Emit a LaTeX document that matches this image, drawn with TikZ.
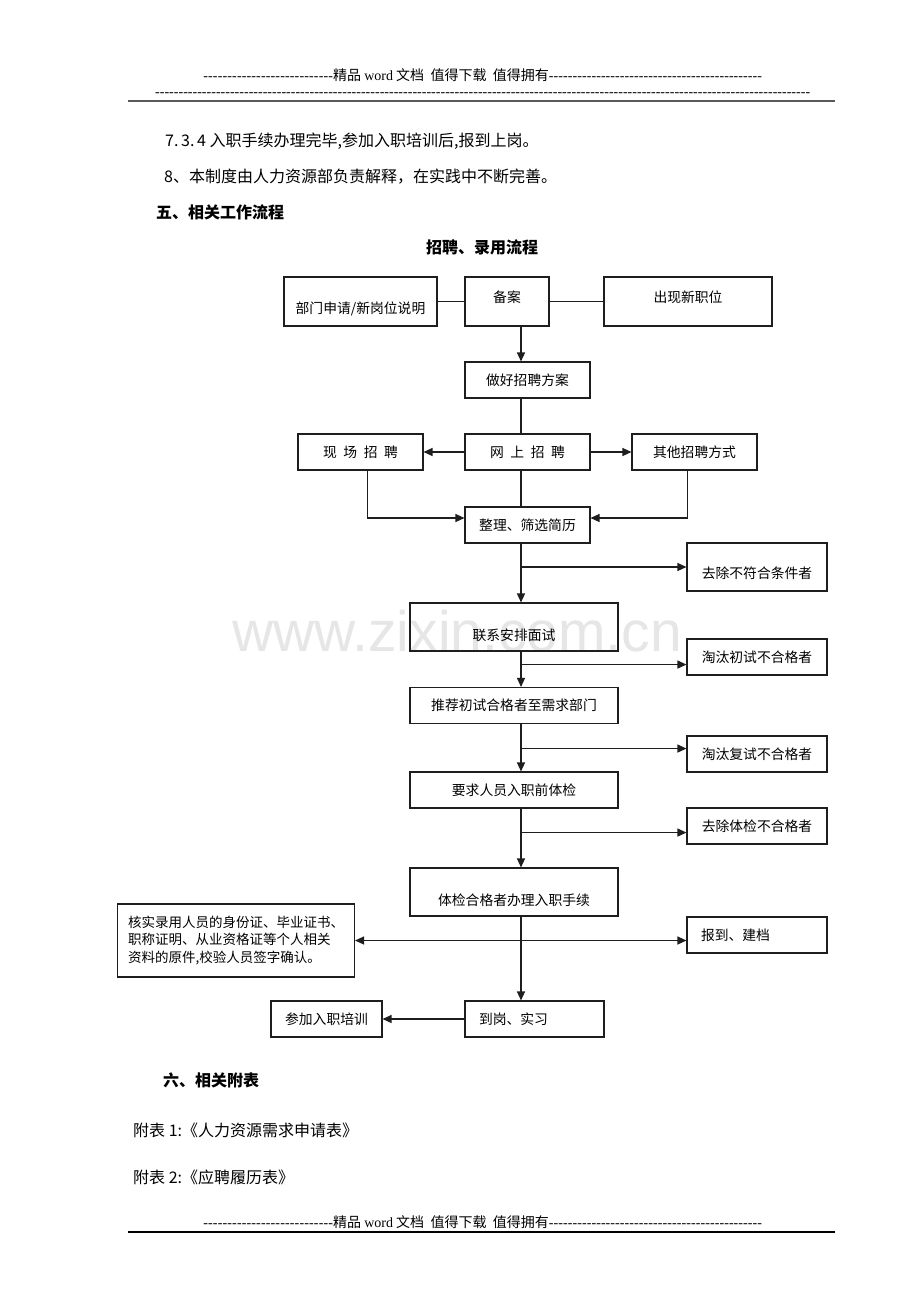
\documentclass[tikz,border=0pt]{standalone}
\usepackage{fontspec}
\setmainfont{Noto Sans CJK SC}
\newfontfamily\lat{Liberation Serif}
\newfontfamily\wmfont{Liberation Sans}
\usepackage{xcolor}
\usepackage{tikz}
\usetikzlibrary{positioning,calc,arrows.meta}
\definecolor{LineGray}{RGB}{30,30,30}
\definecolor{MarkGray}{RGB}{230,230,230}
\newcommand\dashrun[1]{{\lat\xleaders\hbox{-}\hskip #1}}
\newcommand\dashrest{{\lat\xleaders\hbox{-}\hfill}}
\newcommand\txtlift[2]{\raisebox{#1}[0.88em][0.12em]{#2}}
\tikzset{
    flowbox/.style={rectangle, draw=LineGray, line width=1.1pt, inner sep=0pt, font=\fontsize{13.8}{17.5}\selectfont},
    boxsize/.style 2 args={minimum width=#1pt, minimum height=#2pt},
    arr/.style={draw=LineGray, line width=1.2pt, -{Triangle[length=9pt,width=8pt]}},
    link/.style={draw=LineGray, line width=1.2pt},
    bodytext/.style={anchor=west, inner sep=0pt, font=\fontsize{16}{20}\selectfont}
}

\begin{document}
\begin{tikzpicture}[x=1pt, y=-1pt,
                leftbox/.style={align=left, text width=#1pt},
                arrboth/.style={draw=LineGray, line width=1.2pt, {Triangle[length=9pt,width=8pt]}-{Triangle[length=9pt,width=8pt]}},
                headtext/.style={anchor=base west, inner sep=0pt, font=\fontsize{14}{16}\selectfont}
            ]
                \fill[white] (0,0) rectangle (920,1302);
                % 水印
                \node[anchor=base west, inner sep=0pt, text=MarkGray, font=\wmfont\fontsize{57}{60}\selectfont] (wmark) at (232,651) {www.zixin.com.cn};
                % 页眉
                \node[headtext] (headA) at (203,80) {\hbox to 559pt{\dashrun{130pt}精品 {\lat word} 文档\ \ 值得下载\ \ 值得拥有\dashrest}};
                \node[headtext] (headB) at (155,96) {\hbox to 655pt{\dashrest}};
                \draw[line width=2pt, gray!70!black] (128,101) -- (835,101);
                % 正文
                \node[bodytext] (p734) at (165,141) {7.\,3.\,4 入职手续办理完毕,参加入职培训后,报到上岗。};
                \node[bodytext] (p8) at (164,177) {8、本制度由人力资源部负责解释，在实践中不断完善。};
                \node[bodytext, font=\fontsize{16}{20}\selectfont\bfseries] (sec5) at (156,212) {五、相关工作流程};
                \node[inner sep=0pt, font=\fontsize{16}{20}\selectfont\bfseries] (title) at (482,247) {招聘、录用流程};
                % 流程框
                \node[flowbox, boxsize={153}{49}] (bumen) at (360.5,301.5) {\txtlift{-6.5pt}{部门申请/新岗位说明}};
                \node[flowbox, boxsize={84}{49}] (beian) at (507,301.5) {\txtlift{4.5pt}{备案}};
                \node[flowbox, boxsize={168}{49}] (xinzhi) at (688,301.5) {\txtlift{4.5pt}{出现新职位}};
                \node[flowbox, boxsize={125}{36}] (fangan) at (527.5,380) {做好招聘方案};
                \node[flowbox, boxsize={125}{36}] (xianchang) at (360.5,452) {现\hspace{6.5pt}场\hspace{6.5pt}招\hspace{6.5pt}聘};
                \node[flowbox, boxsize={125}{36}] (wangshang) at (527.5,452) {网\hspace{6.5pt}上\hspace{6.5pt}招\hspace{6.5pt}聘};
                \node[flowbox, boxsize={125}{36}] (qita) at (694.5,452) {其他招聘方式};
                \node[flowbox, boxsize={125}{36}] (zhengli) at (527.5,525) {整理、筛选简历};
                \node[flowbox, boxsize={140}{48}] (quchuA) at (757,567) {\txtlift{-6pt}{去除不符合条件者}};
                \node[flowbox, boxsize={208}{48}] (lianxi) at (514,627) {\txtlift{-8pt}{联系安排面试}};
                \node[flowbox, boxsize={140}{36}] (taotaiA) at (757,657) {淘汰初试不合格者};
                \node[flowbox, boxsize={208}{36}] (tuijian) at (514,705.5) {推荐初试合格者至需求部门};
                \node[flowbox, boxsize={140}{36}] (taotaiB) at (757,754) {淘汰复试不合格者};
                \node[flowbox, boxsize={208}{36}] (tijian) at (514,790) {要求人员入职前体检};
                \node[flowbox, boxsize={140}{36}] (quchuB) at (757,826) {去除体检不合格者};
                \node[flowbox, boxsize={208}{48}] (ruzhi) at (514,892) {\txtlift{-8pt}{体检合格者办理入职手续}};
                \node[flowbox, boxsize={237}{73}, align=left, font=\fontsize{13.5}{17.5}\selectfont] (heshi) at (236,940.5) {核实录用人员的身份证、毕业证书、\\职称证明、从业资格证等个人相关\\资料的原件,校验人员签字确认。};
                \node[flowbox, boxsize={140}{36}, leftbox=112] (baodao) at (757,935) {报到、建档};
                \node[flowbox, boxsize={139}{36}, leftbox=111] (daogang) at (534.5,1019) {到岗、实习};
                \node[flowbox, boxsize={111}{36}] (peixun) at (326.5,1019) {参加入职培训};
                % 连线
                \coordinate (spine) at (521,0);
                \draw[link] (bumen) -- (beian);
                \draw[link] (beian) -- (xinzhi);
                \draw[arr] (beian.south -| spine) -- (fangan.north -| spine);
                \draw[link] (fangan.south -| spine) -- (wangshang.north -| spine);
                \draw[arr] (wangshang) -- (xianchang);
                \draw[arr] (wangshang) -- (qita);
                \draw[link] (wangshang.south -| spine) -- (zhengli.north -| spine);
                \draw[arr] ([xshift=7pt]xianchang.south) |- ([yshift=7pt]zhengli.west);
                \draw[arr] ([xshift=-7pt]qita.south) |- ([yshift=7pt]zhengli.east);
                \draw[arr] (zhengli.south -| spine) -- (lianxi.north -| spine);
                \draw[arr] (quchuA.west -| spine) -- (quchuA.west);
                \draw[arr] (lianxi.south -| spine) -- (tuijian.north -| spine);
                \draw[arr] (lianxi.south -| spine) ++(0,13) coordinate (brA) -- (brA -| taotaiA.west);
                \draw[arr] (tuijian.south -| spine) -- (tijian.north -| spine);
                \draw[arr] (tuijian.south -| spine) ++(0,24.5) coordinate (brB) -- (brB -| taotaiB.west);
                \draw[arr] (tijian.south -| spine) -- (ruzhi.north -| spine);
                \draw[arr] (tijian.south -| spine) ++(0,24) coordinate (brC) -- (brC -| quchuB.west);
                \draw[arr] (ruzhi.south -| spine) -- (daogang.north -| spine);
                \draw[arrboth] (heshi.east) -- (heshi.east -| baodao.west);
                \draw[arr] (daogang) -- (peixun);
                % 附表
                \node[bodytext, font=\fontsize{16}{20}\selectfont\bfseries] (sec6) at (163,1080) {六、相关附表};
                \node[bodytext] (fbA) at (133,1130) {附表 1:《人力资源需求申请表》};
                \node[bodytext] (fbB) at (133,1177) {附表 2:《应聘履历表》};
                % 页脚
                \node[headtext] (footA) at (203,1227) {\hbox to 559pt{\dashrun{130pt}精品 {\lat word} 文档\ \ 值得下载\ \ 值得拥有\dashrest}};
                \draw[line width=1.5pt, black] (128,1232) -- (835,1232);
            \end{tikzpicture}
\end{document}
